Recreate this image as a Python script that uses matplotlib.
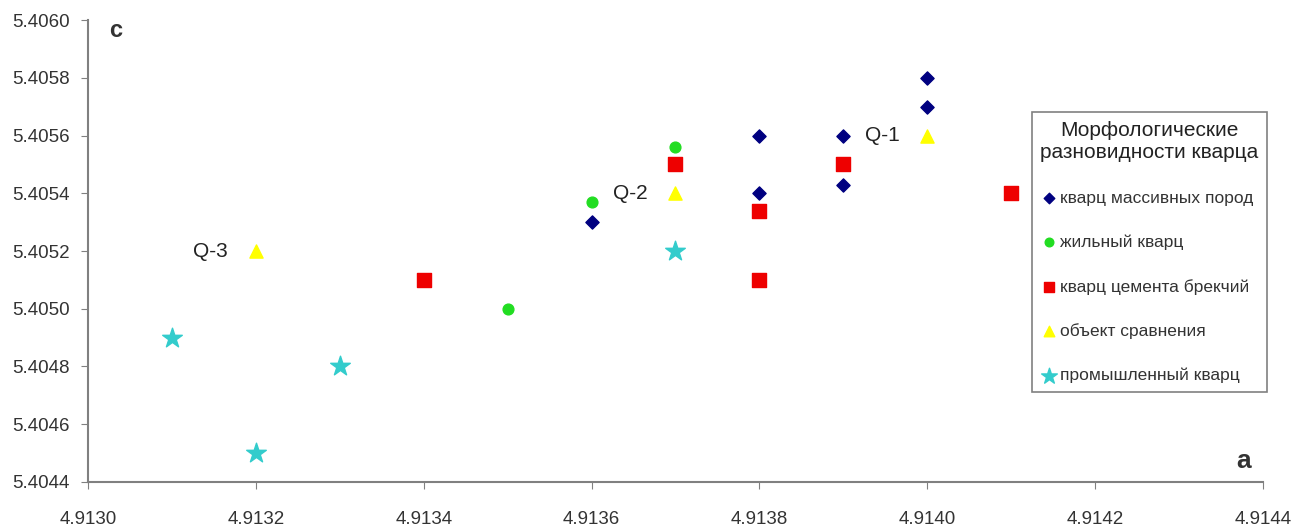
import matplotlib.pyplot as plt

plt.rcParams['font.family'] = ['Liberation Sans', 'DejaVu Sans']

# кварц массивных пород
massive_a = [4.9136, 4.9138, 4.9138, 4.9139, 4.9139, 4.9140, 4.9140]
massive_c = [5.4053, 5.4056, 5.4054, 5.4056, 5.40543, 5.4058, 5.4057]
# жильный кварц
vein_a = [4.9136, 4.9137, 4.9135]
vein_c = [5.40537, 5.40556, 5.4050]
# кварц цемента брекчий
breccia_a = [4.9134, 4.9137, 4.9138, 4.9138, 4.9139, 4.9141]
breccia_c = [5.4051, 5.4055, 5.40534, 5.4051, 5.4055, 5.4054]
# объект сравнения
ref_a = [4.9132, 4.9137, 4.9140]
ref_c = [5.4052, 5.4054, 5.4056]
ref_names = ["Q-3", "Q-2", "Q-1"]
# промышленный кварц
ind_a = [4.9131, 4.9132, 4.9133, 4.9137]
ind_c = [5.4049, 5.4045, 5.4048, 5.4052]

x_ticks = [4.9130, 4.9132, 4.9134, 4.9136, 4.9138, 4.9140, 4.9142, 4.9144]
y_ticks = [5.4044, 5.4046, 5.4048, 5.4050, 5.4052, 5.4054, 5.4056, 5.4058, 5.4060]

fig = plt.figure(figsize=(13.11, 5.31), dpi=100)
ax = fig.add_axes([0.0671, 0.0923, 0.8963, 0.870])

ax.scatter(massive_a, massive_c, marker='D', s=45, color='#000080', label='кварц массивных пород', zorder=3)
ax.scatter(vein_a, vein_c, marker='o', s=60, color='#22dd22', label='жильный кварц', zorder=3)
ax.scatter(breccia_a, breccia_c, marker='s', s=90, color='#ee0000', label='кварц цемента брекчий', zorder=3)
ax.scatter(ref_a, ref_c, marker='^', s=90, color='#ffff00', label='объект сравнения', zorder=3)
ax.scatter(ind_a, ind_c, marker='*', s=220, color='#33cccc', label='промышленный кварц', zorder=3)

for a, c, name in zip(ref_a, ref_c, ref_names):
    ax.annotate(name, (a, c), xytext=(-20, 0), textcoords='offset points',
                ha='right', va='center', fontsize=15, color='#222222')

ax.set_xlim(x_ticks[0], x_ticks[-1])
ax.set_ylim(y_ticks[0], y_ticks[-1])
ax.set_xticks(x_ticks)
ax.set_yticks(y_ticks)
ax.set_xticklabels(['%.4f' % v for v in x_ticks])
ax.set_yticklabels(['%.4f' % v for v in y_ticks])
ax.tick_params(direction='out', length=5, color='#808080', labelsize=13.5,
               labelcolor='#333333')
ax.tick_params(axis='x', pad=16)
ax.tick_params(axis='y', pad=8)

for side in ['top', 'right']:
    ax.spines[side].set_visible(False)
for side in ['left', 'bottom']:
    ax.spines[side].set_color('#808080')
    ax.spines[side].set_linewidth(1.5)

ax.text(0.018, 0.978, 'c', transform=ax.transAxes, fontsize=17, fontweight='bold',
        color='#333333', ha='left', va='center')
ax.text(0.99, 0.045, 'a', transform=ax.transAxes, fontsize=19, fontweight='bold',
        color='#333333', ha='right', va='center')

leg = ax.legend(title='Морфологические\nразновидности кварца', loc='upper left',
                bbox_to_anchor=(0.803, 0.80), fontsize=12.5, title_fontsize=15,
                frameon=True, fancybox=False, edgecolor='#808080', framealpha=1,
                handletextpad=0.15, handlelength=1.0, labelspacing=1.65,
                borderpad=0.5, borderaxespad=0, markerscale=0.8)
leg.get_frame().set_linewidth(1.2)
leg._legend_box.align = 'left'
leg.get_title().set_ha('center')
leg.get_title().set_multialignment('center')
for t in leg.get_texts():
    t.set_color('#333333')
leg.get_title().set_color('#222222')

fig.savefig('out.png', dpi=100)
